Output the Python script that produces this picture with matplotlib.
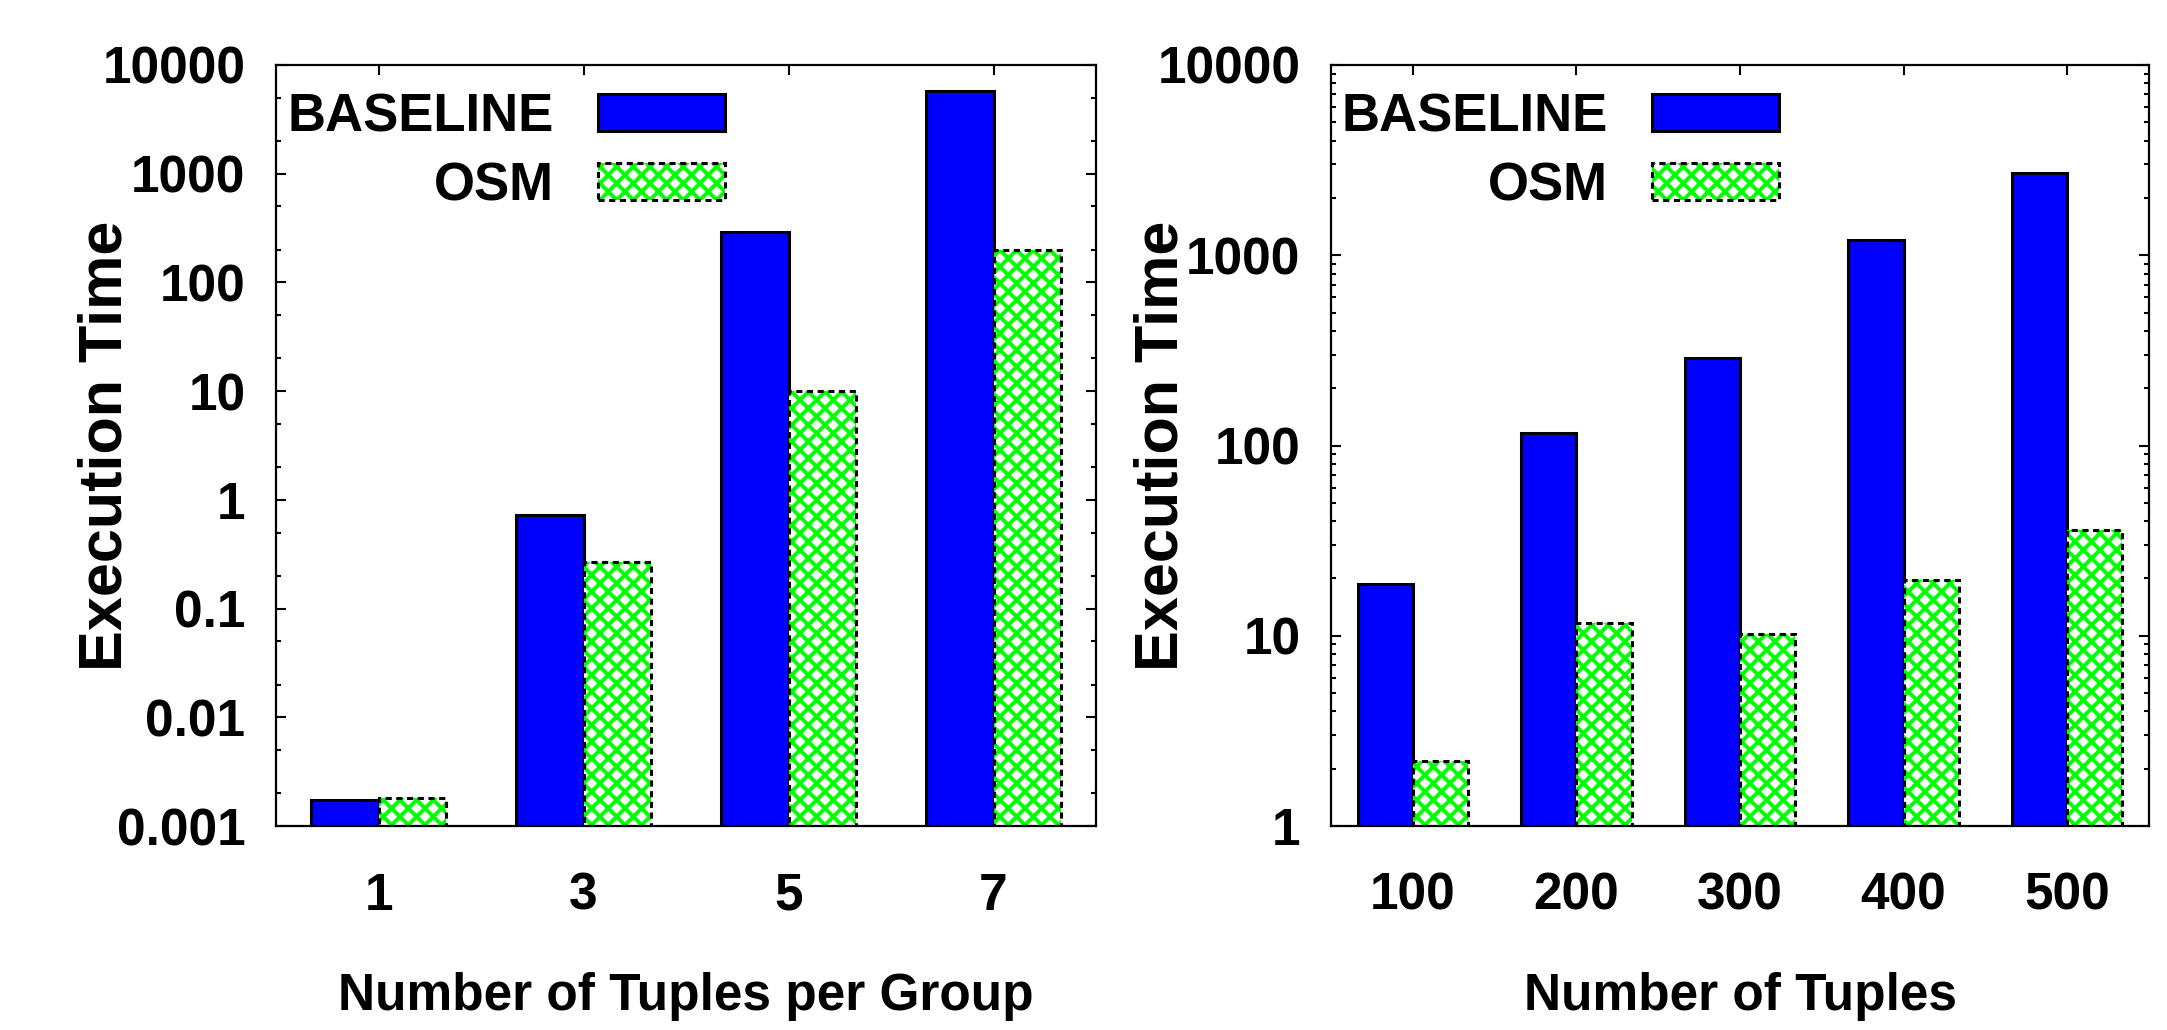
import matplotlib
matplotlib.use("Agg")
import matplotlib.pyplot as plt
from matplotlib import ticker
from matplotlib.legend_handler import HandlerTuple

# left panel: tuples per group
group_sizes = ["1", "3", "5", "7"]
group_pos = [1, 3, 5, 7]
baseline_group = [0.00173, 0.72, 290, 5770]
osm_group = [0.0018, 0.267, 10.1, 200]

# right panel: number of tuples
tuple_counts = ["100", "200", "300", "400", "500"]
tuple_pos = [1, 2, 3, 4, 5]
baseline_tuples = [18.8, 117, 290, 1200, 2700]
osm_tuples = [2.2, 11.7, 10.2, 19.6, 36]

plt.rcParams['font.family'] = ['Liberation Sans', 'DejaVu Sans']
plt.rcParams['font.weight'] = 'bold'
plt.rcParams['axes.labelweight'] = 'bold'
plt.rcParams['hatch.linewidth'] = 2.8

FS = 37
BLUE = '#0000ff'
GREEN = '#00ff00'


def draw_panel(ax, pos, labels, base, osm, width, xlim, ylim, subs, xlabel):
    bottom = ylim[0]
    left = [p - width / 2 for p in pos]
    right = [p + width / 2 for p in pos]
    base_h = [v - bottom for v in base]
    osm_h = [v - bottom for v in osm]
    b = ax.bar(left, base_h, width=width, bottom=bottom, color=BLUE,
               edgecolor='black', linewidth=2.2, zorder=2)
    o_fill = ax.bar(right, osm_h, width=width, bottom=bottom, color='white',
                    edgecolor=GREEN, hatch='xx', linewidth=0, zorder=2)
    o_edge = ax.bar(right, osm_h, width=width, bottom=bottom, fill=False,
                    edgecolor='black', linewidth=2.2, linestyle=(0, (2, 1.5)), zorder=3)

    ax.set_yscale('log')
    ax.set_xlim(*xlim)
    ax.set_ylim(*ylim)
    ax.set_xticks(pos)
    ax.set_xticklabels(labels)
    ax.yaxis.set_major_locator(ticker.LogLocator(base=10, numticks=20))
    ax.yaxis.set_minor_locator(ticker.LogLocator(base=10, subs=subs, numticks=20))
    ax.yaxis.set_minor_formatter(ticker.NullFormatter())
    ax.yaxis.set_major_formatter(ticker.FuncFormatter(lambda v, p: f'{v:g}'))

    ax.tick_params(axis='both', which='both', direction='in', top=True, right=True,
                   labelsize=FS, width=1.5)
    ax.tick_params(axis='both', which='major', length=7)
    ax.tick_params(axis='both', which='minor', length=3.5)
    ax.tick_params(axis='x', which='minor', top=False, bottom=False)
    ax.tick_params(axis='y', which='major', pad=22)
    ax.tick_params(axis='x', which='major', pad=33)
    for s in ax.spines.values():
        s.set_linewidth(1.6)

    ax.set_ylabel('Execution Time', fontsize=44, fontweight='bold', va='center')
    ax.yaxis.set_label_coords(-0.207, 0.5)
    ax.set_xlabel(xlabel, fontsize=FS, fontweight='bold', va='center')
    ax.xaxis.set_label_coords(0.5, -0.224)

    ax.legend([b[0], (o_fill[0], o_edge[0])], ['BASELINE', 'OSM'],
              handler_map={tuple: HandlerTuple(ndivide=1, pad=0)},
              loc='upper right', bbox_to_anchor=(0.5476, 0.964),
              markerfirst=False, alignment='right', frameon=False,
              fontsize=FS + 1, handlelength=2.4, handleheight=0.7,
              handletextpad=0.85, labelspacing=0.36, borderpad=0, borderaxespad=0)


fig = plt.figure(figsize=(21.67, 10.30), dpi=100)
ax1 = fig.add_axes([276 / 2167, 204 / 1030, 820 / 2167, 761 / 1030])
ax2 = fig.add_axes([1331 / 2167, 204 / 1030, 818 / 2167, 761 / 1030])

draw_panel(ax1, group_pos, group_sizes, baseline_group, osm_group, 0.66,
           (0, 8), (0.001, 10000), [2, 5], 'Number of Tuples per Group')
draw_panel(ax2, tuple_pos, tuple_counts, baseline_tuples, osm_tuples, 0.338,
           (0.5, 5.5), (1, 10000), [2, 3, 4, 5, 6, 7, 8, 9], 'Number of Tuples')

fig.savefig('out.png', dpi=100)
